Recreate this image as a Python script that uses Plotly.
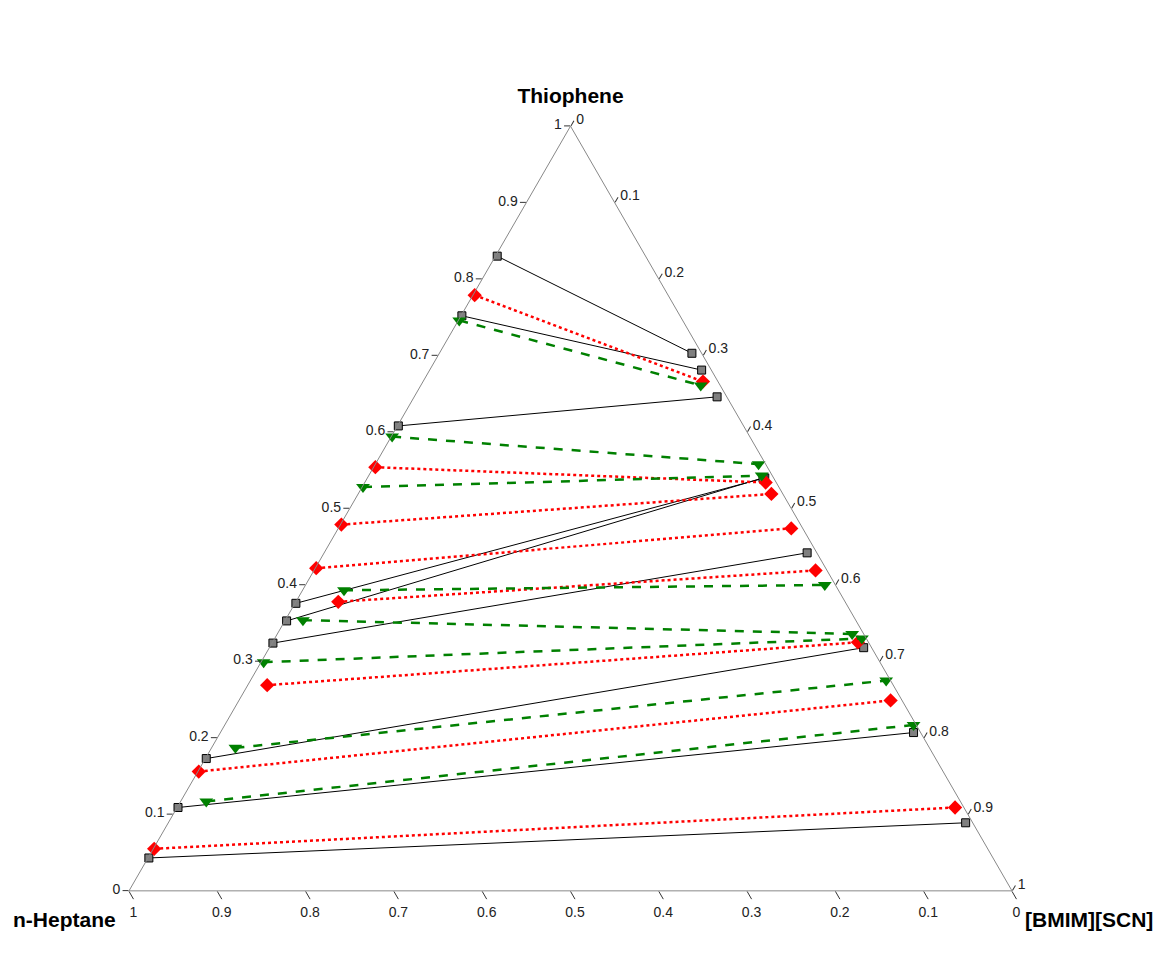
import plotly.graph_objects as go

# Tie-line data (mass/mole fractions): raffinate (heptane-rich) and extract (IL-rich) phases
# Series 1: black squares, solid
s1_raf_thio = [0.830, 0.752, 0.608, 0.376, 0.353, 0.324, 0.173, 0.109, 0.043]
s1_raf_hept = [0.168, 0.247, 0.391, 0.623, 0.645, 0.675, 0.826, 0.890, 0.956]
s1_raf_il = [0.002, 0.001, 0.001, 0.001, 0.002, 0.001, 0.001, 0.001, 0.001]
s1_ext_thio = [0.703, 0.681, 0.646, 0.540, 0.540, 0.442, 0.318, 0.207, 0.089]
s1_ext_hept = [0.011, 0.011, 0.011, 0.010, 0.012, 0.011, 0.009, 0.008, 0.008]
s1_ext_il = [0.286, 0.308, 0.343, 0.450, 0.448, 0.547, 0.673, 0.785, 0.903]

# Series 2: red diamonds, dotted
s2_raf_thio = [0.779, 0.554, 0.479, 0.422, 0.378, 0.269, 0.156, 0.055]
s2_raf_hept = [0.219, 0.444, 0.520, 0.577, 0.574, 0.709, 0.843, 0.944]
s2_raf_il = [0.002, 0.002, 0.001, 0.001, 0.048, 0.022, 0.001, 0.001]
s2_ext_thio = [0.666, 0.534, 0.519, 0.474, 0.419, 0.325, 0.249, 0.109]
s2_ext_hept = [0.017, 0.012, 0.013, 0.013, 0.013, 0.012, 0.013, 0.010]
s2_ext_il = [0.317, 0.454, 0.468, 0.513, 0.568, 0.663, 0.738, 0.881]

# Series 3: green down-triangles, dashed
s3_raf_thio = [0.746, 0.594, 0.528, 0.393, 0.354, 0.299, 0.187, 0.117]
s3_raf_hept = [0.253, 0.405, 0.471, 0.560, 0.626, 0.698, 0.786, 0.854]
s3_raf_il = [0.001, 0.001, 0.001, 0.047, 0.020, 0.003, 0.027, 0.029]
s3_ext_thio = [0.661, 0.558, 0.543, 0.400, 0.336, 0.330, 0.275, 0.217]
s3_ext_hept = [0.022, 0.008, 0.012, 0.012, 0.013, 0.005, 0.005, 0.003]
s3_ext_il = [0.317, 0.434, 0.445, 0.588, 0.651, 0.665, 0.720, 0.780]

tick_vals = [0, 0.1, 0.2, 0.3, 0.4, 0.5, 0.6, 0.7, 0.8, 0.9, 1]
tick_text = ["0", "0.1", "0.2", "0.3", "0.4", "0.5", "0.6", "0.7", "0.8", "0.9", "1"]


def segments(ra, rb, rc, ea, eb, ec):
    A, B, C = [], [], []
    for i in range(len(ra)):
        A += [ra[i], ea[i], None]
        B += [rb[i], eb[i], None]
        C += [rc[i], ec[i], None]
    return A, B, C


fig = go.Figure()

series = [
    (s1_raf_thio, s1_raf_hept, s1_raf_il, s1_ext_thio, s1_ext_hept, s1_ext_il,
     dict(color="black", width=1, dash="solid"),
     dict(symbol="square", size=8, color="#7f7f7f", line=dict(color="black", width=1))),
    (s2_raf_thio, s2_raf_hept, s2_raf_il, s2_ext_thio, s2_ext_hept, s2_ext_il,
     dict(color="red", width=2.5, dash="dot"),
     dict(symbol="diamond", size=11, color="red", line=dict(width=0))),
    (s3_raf_thio, s3_raf_hept, s3_raf_il, s3_ext_thio, s3_ext_hept, s3_ext_il,
     dict(color="#008000", width=2.5, dash="dash"),
     dict(symbol="triangle-down", size=12, color="#008000", line=dict(width=0))),
]

for ra, rb, rc, ea, eb, ec, ln, mk in series:
    A, B, C = segments(ra, rb, rc, ea, eb, ec)
    fig.add_trace(go.Scatterternary(
        a=A, b=B, c=C, mode="lines+markers", line=ln, marker=mk,
        connectgaps=False, cliponaxis=False, showlegend=False, hoverinfo="a+b+c"))

tickfont = dict(family="Liberation Sans, Arial, sans-serif", size=14, color="#222")
titlefont = dict(family="Liberation Sans, Arial, sans-serif", size=21, color="black")


def axis(title, ticklen=6):
    return dict(
        title=dict(text=title, font=titlefont),
        min=0, tickmode="array", tickvals=tick_vals, ticktext=tick_text,
        ticks="outside", ticklen=ticklen, tickcolor="#333", tickwidth=1,
        tickfont=tickfont, showgrid=False,
        linecolor="#888", linewidth=1, showline=True,
    )


fig.update_layout(
    width=1161, height=979,
    paper_bgcolor="white",
    margin=dict(l=121, r=157, t=118, b=96),
    ternary=dict(
        sum=1,
        bgcolor="white",
        aaxis=axis("<b>Thiophene</b>"),
        baxis=axis("", ticklen=9),
        caxis=axis("", ticklen=6),
    ),
    annotations=[
        dict(text="<b>n-Heptane</b>", xref="paper", yref="paper",
             x=-0.013, y=-0.037, xanchor="right", yanchor="middle",
             showarrow=False, font=titlefont),
        dict(text="<b>[BMIM][SCN]</b>", xref="paper", yref="paper",
             x=1.012, y=-0.037, xanchor="left", yanchor="middle",
             showarrow=False, font=titlefont),
    ],
    showlegend=False,
)

fig.write_html("out.html")
